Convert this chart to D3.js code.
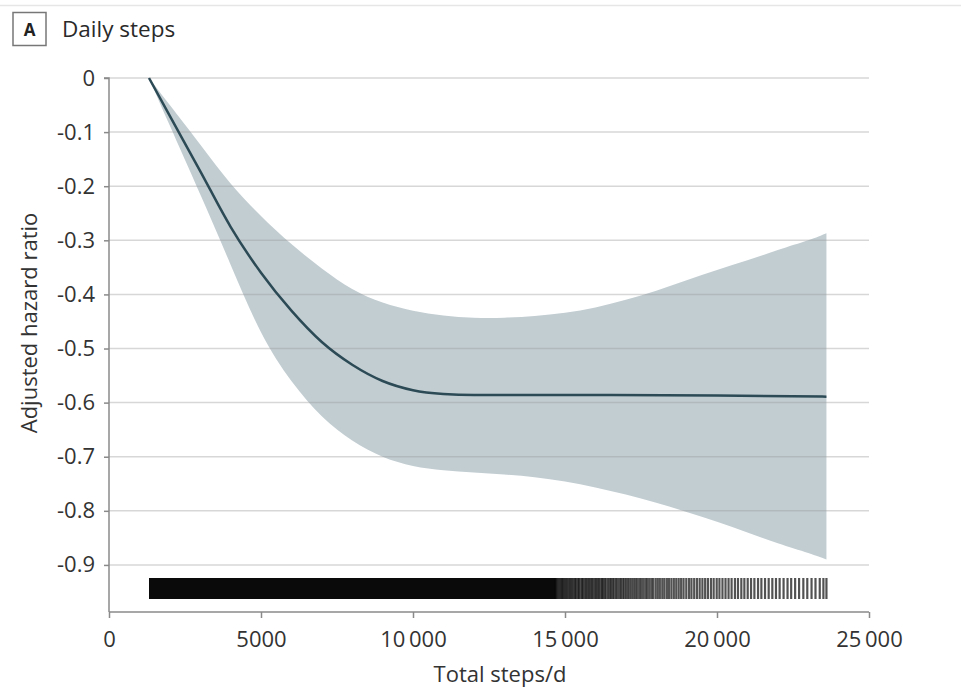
<!DOCTYPE html>
<html>
<head>
<meta charset="utf-8">
<script src="https://cdn.jsdelivr.net/npm/d3@7"></script>
<style>
  body { margin: 0; background: #fff; }
  svg { display: block; }
  text { font-family: "Open Sans", "Noto Sans", sans-serif; }
</style>
</head>
<body>
<svg id="chart" width="961" height="691"></svg>
<script>
// ---- Data ----
const yTicks = [0, -0.1, -0.2, -0.3, -0.4, -0.5, -0.6, -0.7, -0.8, -0.9];
const xTicks = [0, 5000, 10000, 15000, 20000, 25000];

// Estimated adjusted hazard ratio curve (steps/d -> value)
const curveSteps  = [1316, 2000, 3000, 4000, 5000, 6000, 7000, 8000, 9000, 10000, 11000, 12000, 15000, 20000, 23600];
const curveValues = [0, -0.070, -0.172, -0.275, -0.360, -0.430, -0.488, -0.530, -0.560, -0.577, -0.584, -0.586, -0.586, -0.587, -0.589];

// Upper confidence bound
const upperSteps  = [1316, 2000, 3000, 4000, 5000, 6000, 7000, 8000, 9000, 10000, 11000, 12000, 13000, 14000, 15000, 16000, 17000, 18000, 19000, 20000, 21000, 22000, 23000, 23600];
const upperValues = [0, -0.050, -0.123, -0.195, -0.255, -0.307, -0.352, -0.390, -0.415, -0.430, -0.439, -0.443, -0.443, -0.440, -0.434, -0.424, -0.410, -0.393, -0.374, -0.355, -0.337, -0.318, -0.300, -0.287];

// Lower confidence bound
const lowerSteps  = [1316, 2000, 3000, 4000, 5000, 6000, 7000, 8000, 9000, 10000, 11000, 12000, 13000, 14000, 15000, 16000, 17000, 18000, 19000, 20000, 21000, 22000, 23000, 23600];
const lowerValues = [0, -0.088, -0.215, -0.345, -0.470, -0.560, -0.625, -0.670, -0.700, -0.717, -0.725, -0.729, -0.733, -0.738, -0.746, -0.757, -0.770, -0.785, -0.802, -0.820, -0.840, -0.860, -0.878, -0.890];

// Rug of observations: dense (solid) range, then individual ticks
const rugDenseRange = [1316, 14700];
const rugTicks = [14700,14740,14780,14820,14860,14900,14940,14980,15020,15060,15110,15150,15190,15240,15280,15330,15370,15420,15460,15510,15560,15600,15650,15700,15740,15790,15840,15880,15930,15980,16030,16070,16120,16170,16220,16260,16310,16360,16420,16470,16520,16570,16620,16680,16730,16790,16840,16900,16950,17010,17070,17130,17190,17250,17310,17370,17440,17500,17570,17640,17700,17770,17840,17900,17980,18050,18120,18200,18270,18350,18420,18500,18580,18660,18740,18820,18900,18990,19080,19160,19250,19340,19430,19520,19610,19700,19800,19890,19990,20080,20180,20280,20380,20480,20590,20690,20800,20900,21010,21120,21230,21350,21460,21580,21700,21820,21940,22060,22190,22320,22440,22570,22700,22840,22970,23110,23240,23380,23500,23600];

// ---- Layout ----
const svg = d3.select("#chart");
const x = d3.scaleLinear().domain([0, 25000]).range([109, 869]);
const y = d3.scaleLinear().domain([0, -0.987]).range([78, 612]);
const FONT = "\"Open Sans\", \"Noto Sans\", sans-serif";

// top rule
svg.append("line").attr("x1", 0).attr("x2", 961).attr("y1", 5.5).attr("y2", 5.5)
  .attr("stroke", "#e6e6e6").attr("stroke-width", 1.5);

// panel label
svg.append("rect").attr("x", 13).attr("y", 12.5).attr("width", 33).attr("height", 33)
  .attr("fill", "#fff").attr("stroke", "#777").attr("stroke-width", 1.5);
svg.append("text").attr("x", 29.5).attr("y", 35.5).attr("text-anchor", "middle")
  .attr("font-size", 17).attr("font-weight", 700).attr("fill", "#222").text("A");
svg.append("text").attr("x", 62).attr("y", 37).attr("font-size", 22.5).attr("fill", "#2a2a2a")
  .text("Daily steps");

// confidence band
const upperData = upperSteps.map((s, i) => ({ s, v: upperValues[i] }));
const lowerData = lowerSteps.map((s, i) => ({ s, v: lowerValues[i] }));
const lineGen = d3.line().x(d => x(d.s)).y(d => y(d.v)).curve(d3.curveNatural);
const upPath = lineGen(upperData);
const lowPath = lineGen(lowerData.slice().reverse());
svg.append("path")
  .attr("d", upPath + "L" + lowPath.slice(1) + "Z")
  .attr("fill", "#c2cdd2");

// gridlines (on top of band)
svg.append("g").selectAll("line").data(yTicks).join("line")
  .attr("x1", x(0)).attr("x2", x(25000))
  .attr("y1", d => y(d)).attr("y2", d => y(d))
  .attr("stroke", "#9a9a9a").attr("stroke-opacity", 0.4).attr("stroke-width", 1.5);

// main curve
const curveData = curveSteps.map((s, i) => ({ s, v: curveValues[i] }));
svg.append("path")
  .attr("d", d3.line().x(d => x(d.s)).y(d => y(d.v)).curve(d3.curveMonotoneX)(curveData))
  .attr("fill", "none").attr("stroke", "#2b4a55").attr("stroke-width", 2.5);

// rug
const rugTop = 578, rugH = 21;
svg.append("rect").attr("x", x(rugDenseRange[0])).attr("y", rugTop)
  .attr("width", x(rugDenseRange[1]) - x(rugDenseRange[0])).attr("height", rugH)
  .attr("fill", "#0a0a0a");
svg.append("g").selectAll("line").data(rugTicks).join("line")
  .attr("x1", d => x(d)).attr("x2", d => x(d))
  .attr("y1", rugTop).attr("y2", rugTop + rugH)
  .attr("stroke", "#000").attr("stroke-opacity", 0.68).attr("stroke-width", 2.2);

// axes
const yAxis = d3.axisLeft(y).tickValues(yTicks).tickSize(5).tickPadding(9)
  .tickFormat(d => d === 0 ? "0" : d3.format(".1f")(d).replace("\u2212", "-"));
const gy = svg.append("g").attr("transform", `translate(${x(0)},0)`).call(yAxis);
gy.select(".domain").attr("d", `M-5,${y(0)}H0V${y(-0.987)}`);
const xAxis = d3.axisBottom(x).tickValues(xTicks).tickSize(6).tickPadding(13)
  .tickFormat(d => d >= 10000 ? d3.format(",")(d).replace(",", "\u2009") : String(d));
const gx = svg.append("g").attr("transform", `translate(0,${y(-0.987)})`).call(xAxis);
gx.select(".domain").attr("d", `M${x(0)},0H${x(25000)}`);

[gx, gy].forEach(g => {
  g.select(".domain").attr("stroke", "#8a8a8a").attr("stroke-width", 1.5);
  g.selectAll(".tick line").attr("stroke", "#8a8a8a").attr("stroke-width", 1.5);
  g.selectAll(".tick text").attr("fill", "#333").attr("font-size", 22)
    .attr("font-family", FONT);
});

// axis titles
svg.append("text").attr("x", 500).attr("y", 682).attr("text-anchor", "middle")
  .attr("font-size", 22).attr("fill", "#333").text("Total steps/d");
svg.append("text").attr("transform", "translate(37,323) rotate(-90)")
  .attr("text-anchor", "middle").attr("font-size", 22).attr("fill", "#333")
  .text("Adjusted hazard ratio");
</script>
</body>
</html>
